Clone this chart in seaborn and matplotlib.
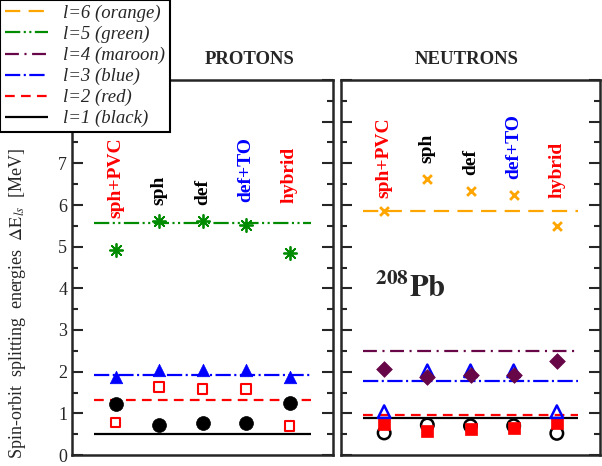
import numpy as np
import pandas as pd
import matplotlib.pyplot as plt
import seaborn as sns

# model calculations (x axis categories)
models = ['sph+PVC', 'sph', 'def', 'def+TO', 'hybrid']
model_colors = ['red', 'black', 'black', 'blue', 'red']

# protons: experimental splittings (lines) and calculations (markers), MeV
p_exp = {1: 0.50, 2: 1.32, 3: 1.92, 5: 5.56}
p_l1 = [1.22, 0.72, 0.78, 0.78, 1.26]
p_l2 = [0.78, 1.64, 1.58, 1.58, 0.70]
p_l3 = [1.88, 2.04, 2.04, 2.04, 1.88]
p_l5 = [4.93, 5.61, 5.61, 5.52, 4.84]
p_label_y = [5.68, 6.01, 6.00, 6.07, 6.05]

# neutrons
n_exp = {1: 0.89, 2: 0.96, 3: 1.77, 4: 2.49, 6: 5.85}
n_l1 = [0.53, 0.72, 0.70, 0.70, 0.52]
n_l2 = [0.74, 0.58, 0.62, 0.64, 0.76]
n_l3 = [1.04, 2.02, 2.02, 2.02, 1.04]
n_l4 = [2.06, 1.88, 1.92, 1.92, 2.25]
n_l6 = [5.85, 6.62, 6.33, 6.24, 5.50]
n_label_y = [6.16, 7.00, 6.71, 6.63, 6.18]

ytick_labels = ['0', '1', '2', '3', '4', '5', '6', '7', '', '']

# style per l
L_COLOR = {1: 'black', 2: 'red', 3: 'blue', 4: '#670748', 5: '#008b00', 6: '#ffa500'}
L_DASH = {1: (0, ()), 2: (0, (7, 4.5)), 3: (0, (11, 2.5, 1.5, 2.5)),
          4: (0, (10, 4, 1.5, 4)), 5: (0, (11, 2.5, 1.5, 2.5, 1.5, 2.5)), 6: (0, (11, 6))}
L_NAME = {1: 'black', 2: 'red', 3: 'blue', 4: 'maroon', 5: 'green', 6: 'orange'}

sns.set_style('ticks')
plt.rcParams['font.family'] = ['Liberation Serif', 'DejaVu Serif']
plt.rcParams['mathtext.fontset'] = 'stix'
plt.rcParams['lines.scale_dashes'] = False

fig = plt.figure(figsize=(6.02, 4.66), dpi=100)
ax_p = fig.add_axes([72 / 602, 11 / 466, 261 / 602, 375 / 466])
ax_n = fig.add_axes([341 / 602, 11 / 466, 259 / 602, 375 / 466])

x = np.arange(1, len(models) + 1)


def draw_points(ax, vals, marker, color, size, filled=True, lw=1.5):
    df = pd.DataFrame({'x': x, 'y': vals})
    if filled:
        sns.scatterplot(data=df, x='x', y='y', ax=ax, marker=marker, s=size ** 2,
                        color=color, edgecolor=color, linewidth=0.5, zorder=4)
    else:
        sns.scatterplot(data=df, x='x', y='y', ax=ax, marker=marker, s=size ** 2,
                        facecolor='none', edgecolor=color, linewidth=lw, zorder=4)


def draw_exp(ax, exp):
    for l, val in exp.items():
        ax.hlines(val, 0.5, 5.5, colors=L_COLOR[l], linestyles=[L_DASH[l]], linewidth=1.6, zorder=3)


# protons
draw_exp(ax_p, p_exp)
draw_points(ax_p, p_l1, 'o', 'black', 10)
draw_points(ax_p, p_l2, 's', 'red', 7, filled=False)
draw_points(ax_p, p_l3, '^', 'blue', 9)
sns.scatterplot(x=x, y=p_l5, ax=ax_p, marker=(8, 2, 0), s=90, color=L_COLOR[5],
                edgecolor=L_COLOR[5], linewidth=1.3, zorder=4)

# neutrons
draw_exp(ax_n, n_exp)
draw_points(ax_n, n_l1, 'o', 'black', 9, filled=False, lw=1.8)
draw_points(ax_n, n_l2, 's', 'red', 8.5)
draw_points(ax_n, n_l3, '^', 'blue', 9, filled=False, lw=1.8)
draw_points(ax_n, n_l4, 'D', L_COLOR[4], 8)
sns.scatterplot(x=x, y=n_l6, ax=ax_n, marker='x', s=40, color=L_COLOR[6],
                linewidth=2, zorder=4)

for ax, label_y in [(ax_p, p_label_y), (ax_n, n_label_y)]:
    ax.set_xlim(0, 6)
    ax.set_ylim(0, 9)
    ax.set_xticks([])
    ax.set_yticks(np.arange(0, 10, 1))
    ax.set_yticklabels(ytick_labels)
    ax.set_yticks(np.arange(0.5, 9, 1), minor=True)
    ax.tick_params(axis='y', which='both', direction='in', left=True, right=True,
                   width=1.5, labelsize=13)
    ax.tick_params(axis='y', which='major', length=8)
    ax.tick_params(axis='y', which='minor', length=4)
    ax.set_xlabel('')
    ax.set_ylabel('')
    for sp in ax.spines.values():
        sp.set_visible(True)
        sp.set_linewidth(1.8)
    for xi, name, c, ty in zip(x, models, model_colors, label_y):
        ax.text(xi, ty, name, rotation=90, ha='center', va='bottom', color=c,
                fontsize=14, fontweight='bold')

ax_n.tick_params(axis='y', labelleft=False)

ax_n.text(0.78, 3.8, r'$\mathbf{^{208}Pb}$', fontsize=22, ha='left', va='baseline')

fig.text(250 / 602, 1 - 60 / 466, 'PROTONS', ha='center', va='center', fontsize=13.5, fontweight='bold')
fig.text(467 / 602, 1 - 60 / 466, 'NEUTRONS', ha='center', va='center', fontsize=13.5, fontweight='bold')
fig.text(18 / 602, 1 - 303 / 466, r'Spin-orbit  splitting  energies  $\Delta\mathrm{E}_{ls}$  [MeV]',
         rotation=90, ha='center', va='center', fontsize=13)

# legend
handles = []
for l in [6, 5, 4, 3, 2, 1]:
    h, = ax_p.plot([], [], color=L_COLOR[l], linestyle=L_DASH[l], linewidth=1.6,
                   label=f'l={l} ({L_NAME[l]})')
    handles.append(h)
leg = fig.legend(handles=handles, loc='upper left', bbox_to_anchor=(0, 1),
                 frameon=True, fancybox=False, framealpha=1, edgecolor='black',
                 prop={'style': 'italic', 'size': 13.5}, handlelength=2.3,
                 borderaxespad=0, labelspacing=0.2, borderpad=0.25)
leg.get_frame().set_linewidth(1.5)
leg.set_zorder(10)

fig.savefig('out.png', dpi=100)
